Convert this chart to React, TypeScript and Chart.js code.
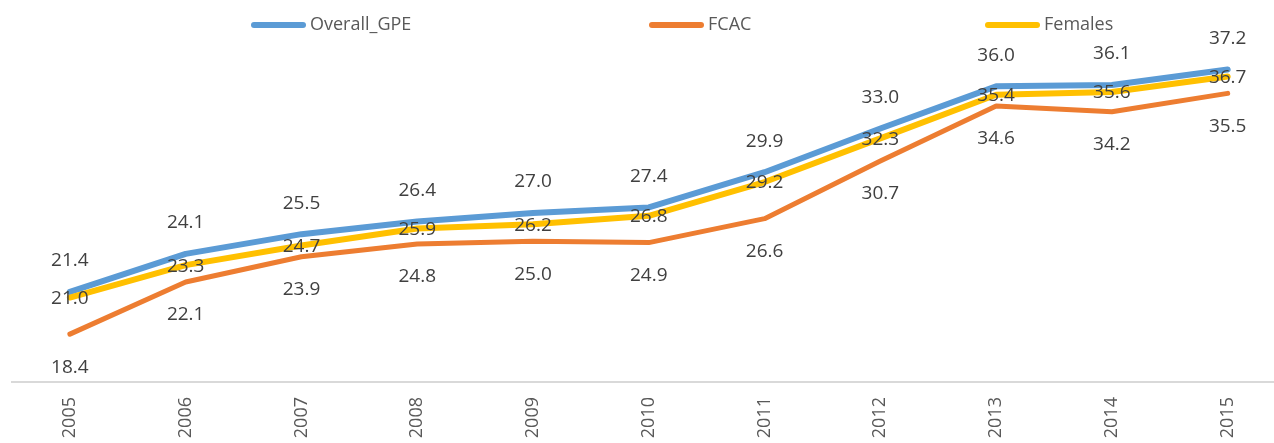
import React, { useEffect, useRef } from "react";
import { Chart, registerables } from "chart.js";

Chart.register(...registerables);

const years = [2005, 2006, 2007, 2008, 2009, 2010, 2011, 2012, 2013, 2014, 2015];
const overallGPE = [21.4, 24.1, 25.5, 26.4, 27.0, 27.4, 29.9, 33.0, 36.0, 36.1, 37.2];
const fcac = [18.4, 22.1, 23.9, 24.8, 25.0, 24.9, 26.6, 30.7, 34.6, 34.2, 35.5];
const females = [21.0, 23.3, 24.7, 25.9, 26.2, 26.8, 29.2, 32.3, 35.4, 35.6, 36.7];

const seriesNames = ["Overall_GPE", "FCAC", "Females"];
const seriesColors = ["#5B9BD5", "#ED7D31", "#FFC000"];
const labelOffsets = [-31, 33, 1];
const legendStarts = [251, 649, 985];

const FONT = "'Open Sans', 'DejaVu Sans', sans-serif";

const dataLabelPlugin = {
  id: "dataLabels",
  afterDatasetsDraw(chart: any) {
    const ctx = chart.ctx;
    ctx.save();
    ctx.font = `19px ${FONT}`;
    ctx.fillStyle = "#404040";
    ctx.textAlign = "center";
    ctx.textBaseline = "middle";
    chart.data.datasets.forEach((ds: any, i: number) => {
      const meta = chart.getDatasetMeta(i);
      meta.data.forEach((pt: any, j: number) => {
        const v = ds.data[j].y;
        ctx.fillText(v.toFixed(1), pt.x, pt.y + ds.labelOffset);
      });
    });
    ctx.restore();
  },
};

const legendPlugin = {
  id: "customLegend",
  afterDraw(chart: any) {
    const ctx = chart.ctx;
    ctx.save();
    const y = 25;
    seriesNames.forEach((name, i) => {
      const x0 = legendStarts[i];
      ctx.strokeStyle = seriesColors[i];
      ctx.lineWidth = 6;
      ctx.lineCap = "round";
      ctx.beginPath();
      ctx.moveTo(x0 + 3, y);
      ctx.lineTo(x0 + 52, y);
      ctx.stroke();
      ctx.font = `18px ${FONT}`;
      ctx.fillStyle = "#595959";
      ctx.textAlign = "left";
      ctx.textBaseline = "middle";
      ctx.fillText(name, x0 + 59, y);
    });
    ctx.restore();
  },
};

export default function App() {
  const canvasRef = useRef<HTMLCanvasElement | null>(null);

  useEffect(() => {
    document.body.style.margin = "0";
    const seriesValues = [overallGPE, fcac, females];
    const widths = [6, 5, 6];
    const orders = [2, 1, 0];
    const chart = new Chart(canvasRef.current as HTMLCanvasElement, {
      type: "line",
      data: {
        datasets: seriesNames.map((name, i) => ({
          label: name,
          data: years.map((yr, j) => ({ x: yr, y: seriesValues[i][j] })),
          borderColor: seriesColors[i],
          backgroundColor: seriesColors[i],
          borderWidth: widths[i],
          borderCapStyle: "round",
          borderJoinStyle: "round",
          pointRadius: 0,
          tension: 0,
          fill: false,
          order: orders[i],
          labelOffset: labelOffsets[i],
        })) as any,
      },
      options: {
        animation: false,
        responsive: false,
        maintainAspectRatio: false,
        layout: { padding: { top: 30, left: 12, right: 0, bottom: 0 } },
        plugins: {
          legend: { display: false },
          tooltip: { enabled: false },
        },
        scales: {
          x: {
            type: "linear",
            min: 2004.5,
            max: 2015.4,
            grid: { display: false, drawTicks: false },
            border: { display: true, color: "#D9D9D9", width: 2 },
            afterBuildTicks: (scale: any) => {
              scale.ticks = years.map((v) => ({ value: v }));
            },
            afterFit: (scale: any) => {
              scale.paddingLeft = 0;
              scale.paddingRight = 0;
              scale.height = 61;
            },
            ticks: {
              autoSkip: false,
              maxRotation: 90,
              minRotation: 90,
              padding: 15,
              color: "#595959",
              font: { family: FONT, size: 18 },
              callback: (v: any) => String(v),
            },
          },
          y: {
            display: false,
            min: 15,
            max: 40,
          },
        },
      },
      plugins: [dataLabelPlugin, legendPlugin],
    });
    return () => chart.destroy();
  }, []);

  return (
    <div style={{ position: "absolute", left: 0, top: 0, width: 1274, height: 443, background: "#fff" }}>
      <canvas ref={canvasRef} width={1274} height={443} style={{ display: "block" }} />
    </div>
  );
}
